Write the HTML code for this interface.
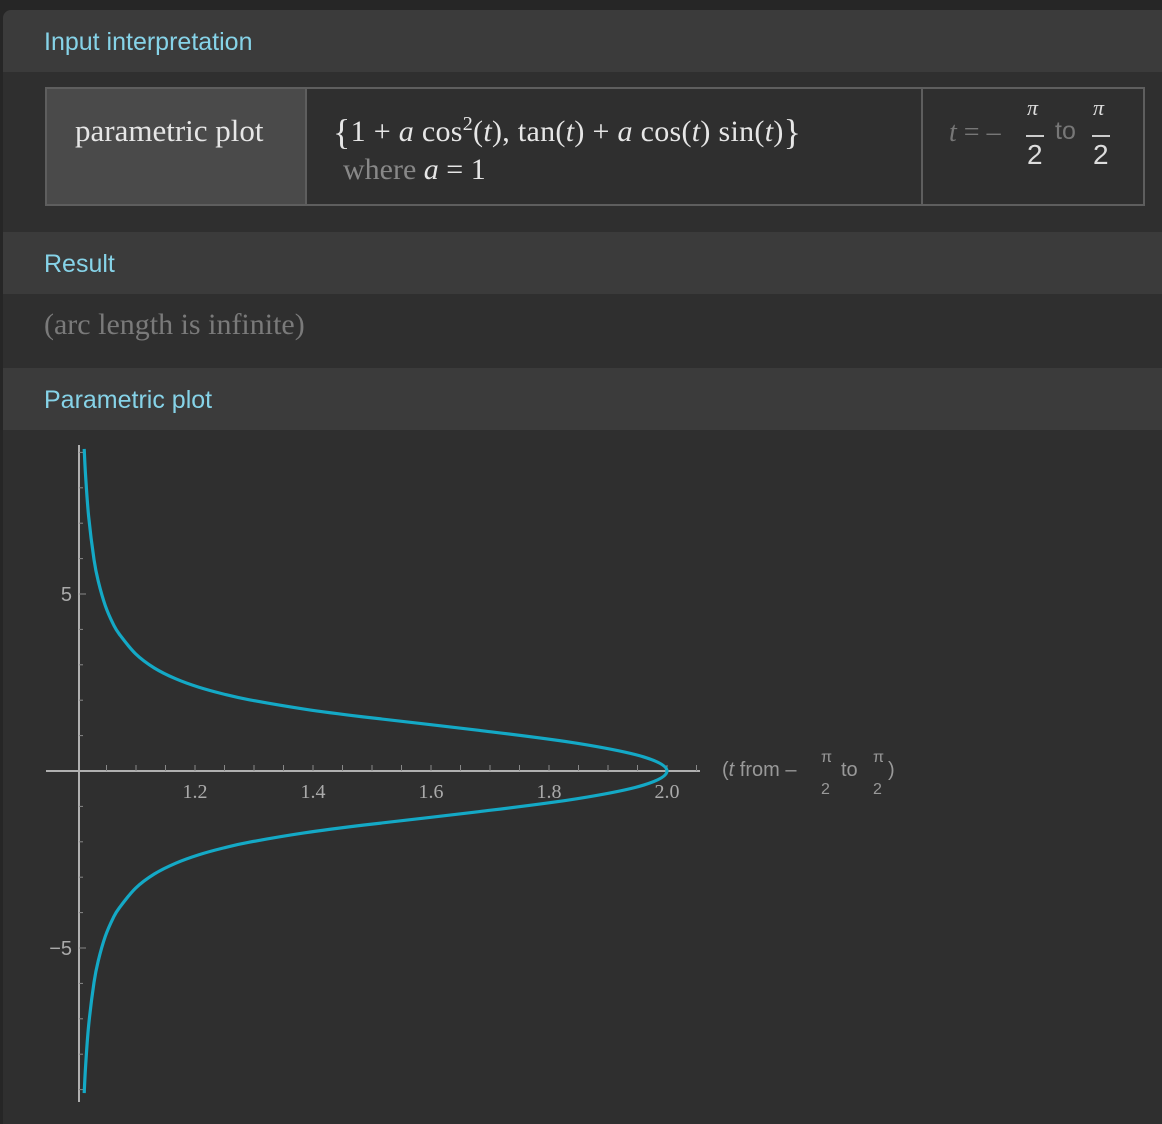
<!DOCTYPE html>
<html><head><meta charset="utf-8"><style>
body{margin:0;width:1162px;height:1124px;background:#262626;overflow:hidden;font-family:"Liberation Sans",sans-serif}
.card{position:absolute;left:3px;top:10px;width:1159px;height:1114px;background:#2f2f2f;border-radius:8px 0 0 0;overflow:hidden}
.hdr{position:absolute;left:0;width:1159px;height:62px;background:#3b3b3b;color:#86d3e8;font-size:25px;line-height:64px;padding-left:41px;box-sizing:border-box}
.serif{font-family:"Liberation Serif",serif}
table{position:absolute;left:42px;top:77px;border-collapse:collapse;height:119px}
td{border:2px solid #5e5e5e;padding:0;vertical-align:top}
</style></head><body>
<div class="card">
<div class="hdr" style="top:0">Input interpretation</div>
<table><tr>
<td style="width:258px;background:#4a4a4a"><div class="serif" style="color:#e6e6e6;font-size:31px;padding:24px 0 0 28px">parametric plot</div></td>
<td style="width:614px"><div class="serif" style="color:#e6e6e6;font-size:30px;padding:22px 0 0 26px;white-space:nowrap;letter-spacing:0.3px"><span style="font-size:36px;vertical-align:-3px">{</span>1 + <i>a</i> cos<sup style="font-size:20px">2</sup>(<i>t</i>), tan(<i>t</i>) + <i>a</i> cos(<i>t</i>) sin(<i>t</i>)<span style="font-size:36px;vertical-align:-3px">}</span></div>
<div class="serif" style="font-size:30px;padding:0 0 0 36px;color:#888">where <i style="color:#e6e6e6">a</i> <span style="color:#e6e6e6">= 1</span></div></td>
<td style="width:220px"><div class="serif" style="position:relative;height:115px;color:#777;font-size:28px">
<span style="position:absolute;left:26px;top:28px"><i>t</i> = –</span>
<span style="position:absolute;left:104px;top:6px;font-size:22px;color:#ddd"><i>π</i></span><span style="position:absolute;left:103px;top:46px;width:18px;border-top:2px solid #ccc"></span><span style="position:absolute;left:104px;top:50px;color:#ddd;font-family:'Liberation Sans'">2</span>
<span style="position:absolute;left:132px;top:28px;font-family:'Liberation Sans';font-size:25px">to</span>
<span style="position:absolute;left:170px;top:6px;font-size:22px;color:#ddd"><i>π</i></span><span style="position:absolute;left:169px;top:46px;width:18px;border-top:2px solid #ccc"></span><span style="position:absolute;left:170px;top:50px;color:#ddd;font-family:'Liberation Sans'">2</span>
</div></td></tr></table>
<div class="hdr" style="top:222px">Result</div>
<div class="serif" style="position:absolute;left:41px;top:298px;font-size:30px;color:#7a7a7a">(arc length is infinite)</div>
<div class="hdr" style="top:358px">Parametric plot</div>
</div>
<svg id="plot" width="1162" height="1124" style="position:absolute;left:0;top:0"></svg>
<script>
const xs=[2.0,1.9605,1.848,1.681,1.485,1.386,1.292,1.248,1.206,1.167,1.131,1.0994,1.072,1.0616,1.048,1.036,1.0289,1.0197,1.0145,1.0122];
const ys=[0,0.397,0.782,1.150,1.529,1.747,2.012,2.175,2.369,2.607,2.910,3.309,3.860,4.143,4.669,5.363,5.965,7.194,8.358,9.099];
const xTicks=[1.2,1.4,1.6,1.8,2.0];
const xTickLabels=["1.2","1.4","1.6","1.8","2.0"];
const yTicks=[5,-5];
const yTickLabels=["5","−5"];
const NS="http://www.w3.org/2000/svg";
const svg=document.getElementById('plot');
const X=v=>77+(v-1)*590, Y=v=>771-v*35.4;
function mk(tag,at){const e=document.createElementNS(NS,tag);for(const k in at)e.setAttribute(k,at[k]);svg.appendChild(e);return e;}
let l=mk('line',{x1:46,x2:700,y1:771,y2:771,stroke:'#b0b0b0','stroke-width':2});


l=mk('line',{x1:79,x2:79,y1:445,y2:1102,stroke:'#b0b0b0','stroke-width':2});


for(let v=1.05;v<2.06;v+=0.05){const t=mk('line',{x1:X(v),x2:X(v),y1:765,y2:771,stroke:'#888','stroke-width':1});}
for(let v=-9;v<=9;v++){if(!v)continue;const t=mk('line',{x1:79,x2:v%5?83:86,y1:Y(v),y2:Y(v),stroke:'#888','stroke-width':1});}
xTicks.forEach((v,i)=>{const t=mk('text',{x:X(v),y:798,'text-anchor':'middle','font-size':20,fill:'#aaa','font-family':'Liberation Serif, serif'});t.textContent=xTickLabels[i];});
yTicks.forEach((v,i)=>{const t=mk('text',{x:72,y:Y(v)+7,'text-anchor':'end','font-size':20,fill:'#aaa','font-family':'Liberation Sans, sans-serif'});t.textContent=yTickLabels[i];});
let pts=[];
for(let i=xs.length-1;i>0;i--)pts.push([X(xs[i]),Y(-ys[i])]);
for(let i=0;i<xs.length;i++)pts.push([X(xs[i]),Y(ys[i])]);
const P=pts;
let d='M'+P[0].join(',');
for(let i=0;i<P.length-1;i++){const p0=P[Math.max(0,i-1)],p1=P[i],p2=P[i+1],p3=P[Math.min(P.length-1,i+2)];
d+=` C${p1[0]+(p2[0]-p0[0])/6},${p1[1]+(p2[1]-p0[1])/6} ${p2[0]-(p3[0]-p1[0])/6},${p2[1]-(p3[1]-p1[1])/6} ${p2[0]},${p2[1]}`;}
const c=mk('path',{d:d,fill:'none',stroke:'#14a9c6','stroke-width':3.2});


const g=mk('text',{x:722,y:776,'font-size':20,fill:'#999','font-family':'Liberation Sans, sans-serif'});


g.innerHTML='(<tspan font-style="italic">t</tspan> from –';
const f=[['π',821,762],['2',821,794],['to',841,776],['π',873,762],['2',873,794],[')',888,776]];
f.forEach(a=>{const t=mk('text',{x:a[1],y:a[2],'font-size':a[0]=='to'||a[0]==')'?20:16,fill:'#999','font-family':'Liberation Sans, sans-serif'});t.textContent=a[0];});
</script>
</body></html>
